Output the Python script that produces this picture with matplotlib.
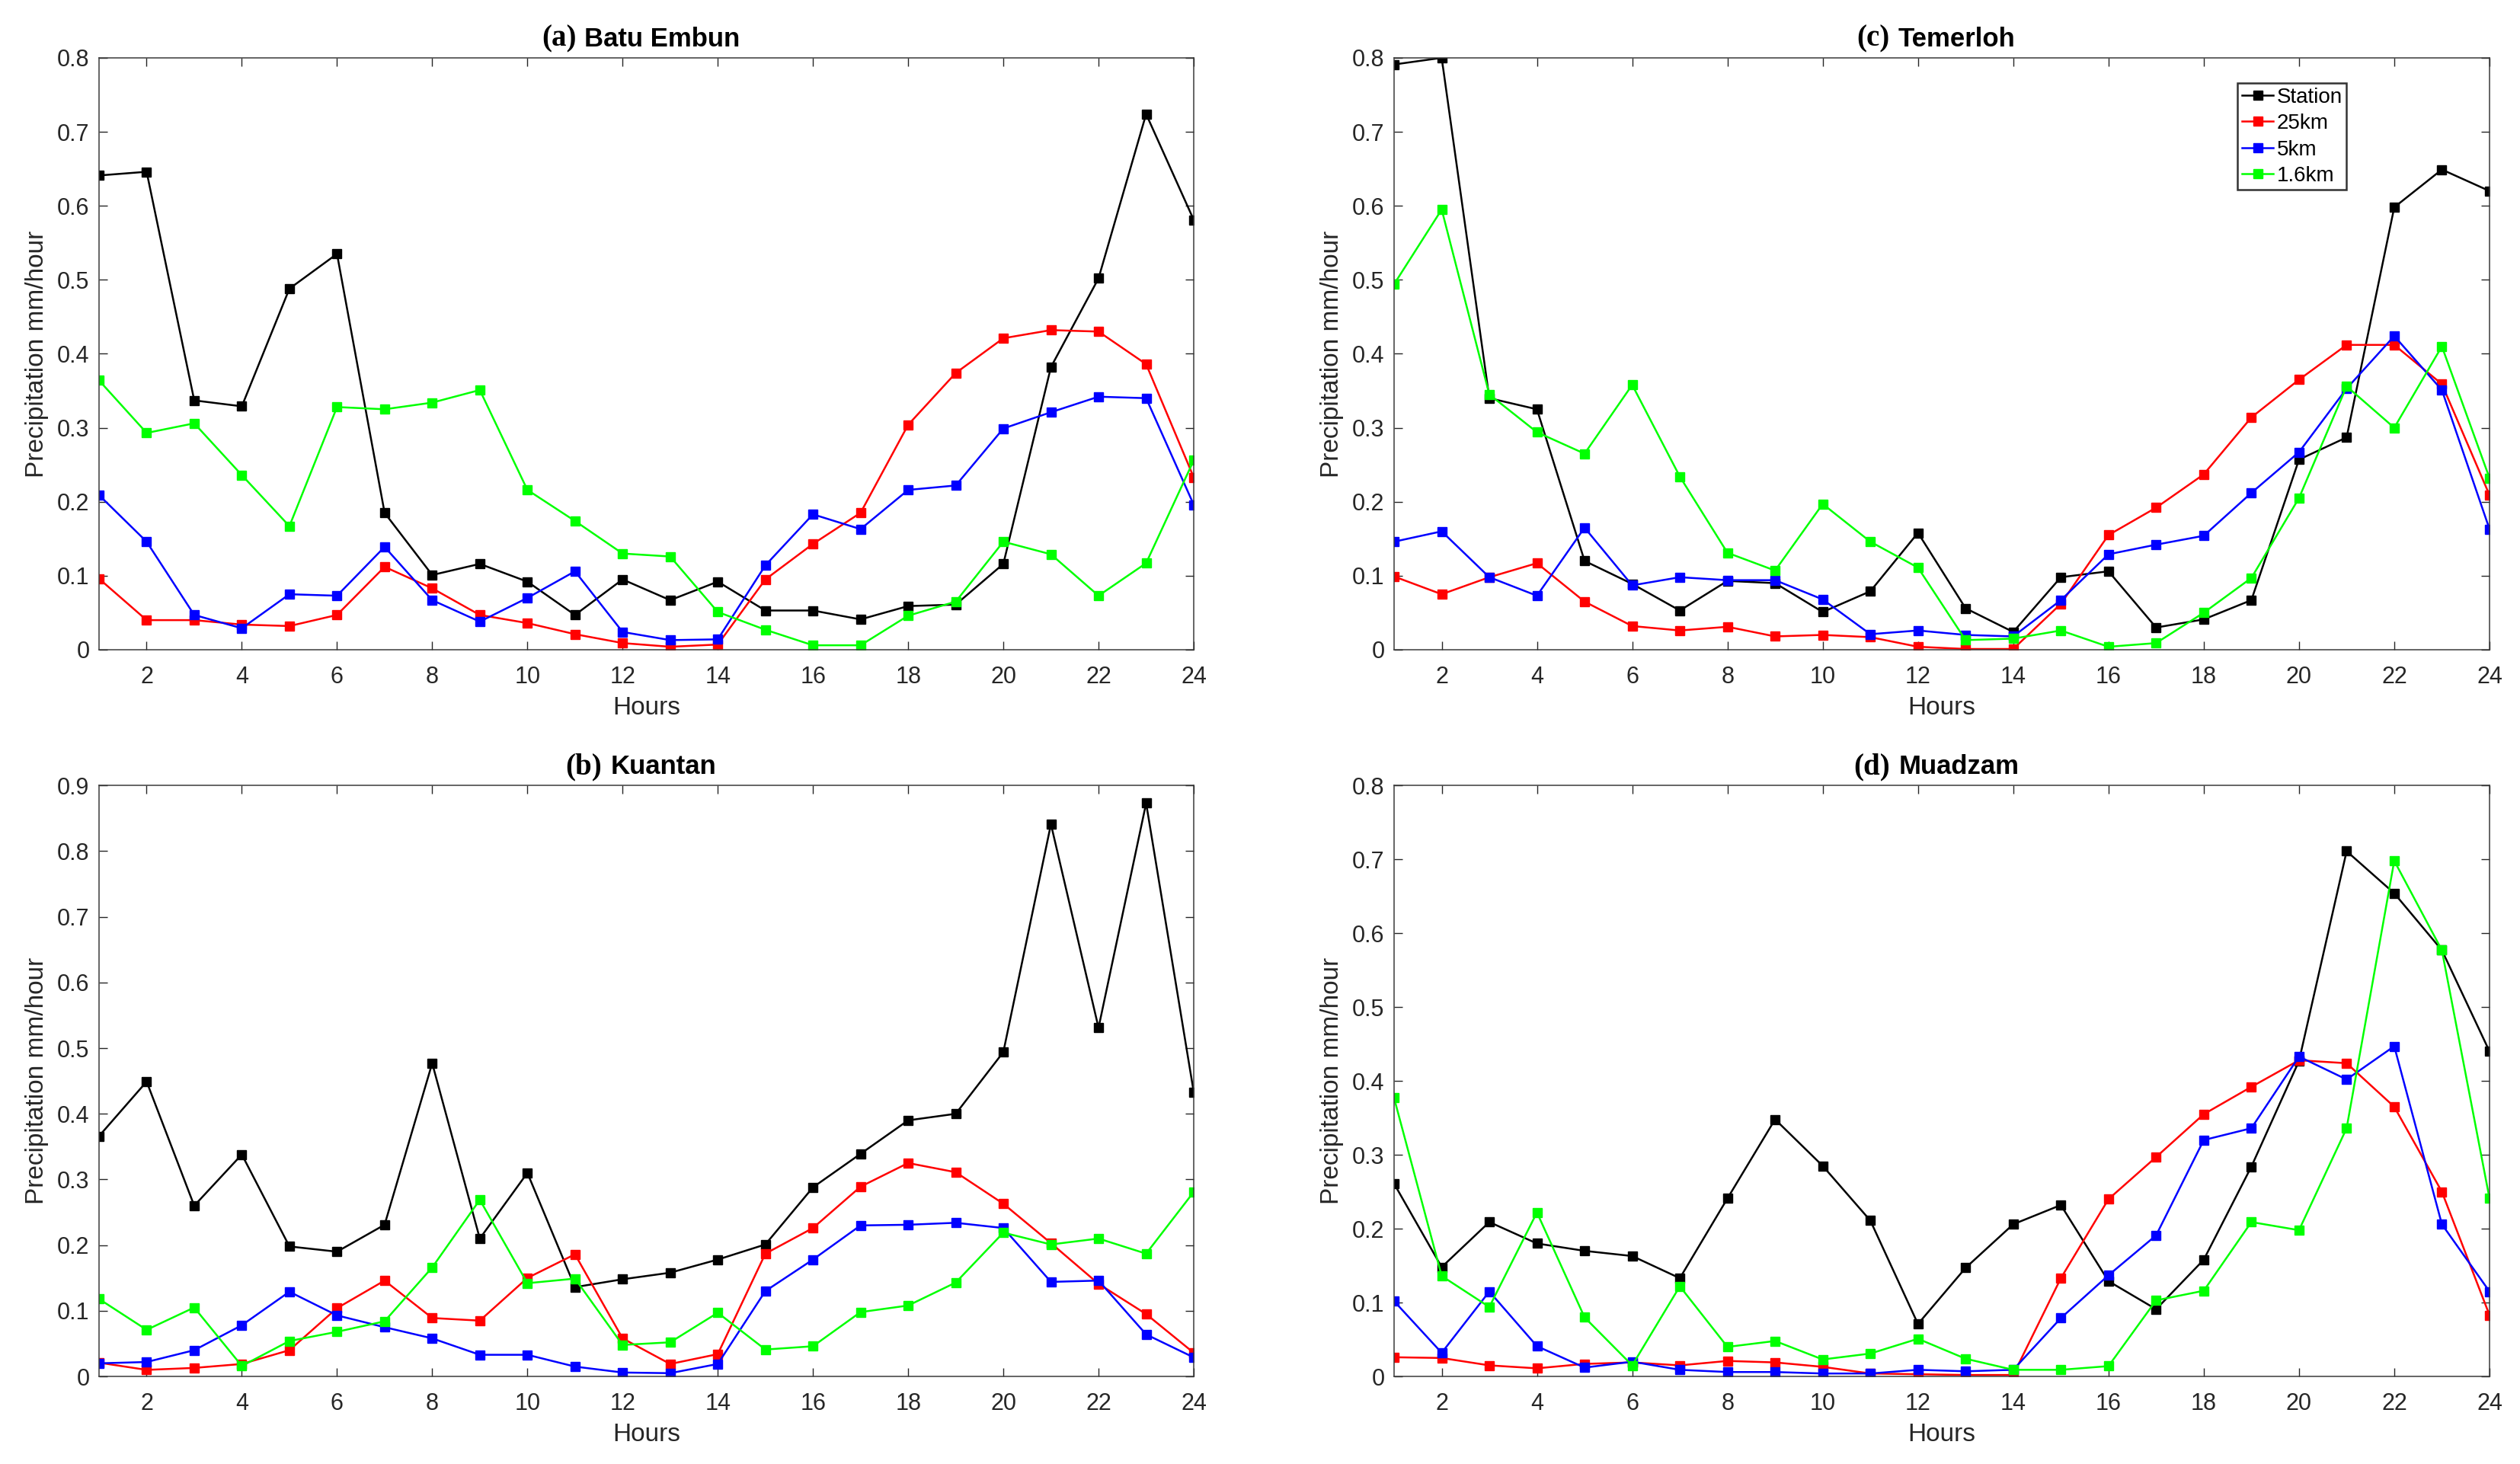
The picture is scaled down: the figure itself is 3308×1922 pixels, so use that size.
import matplotlib
matplotlib.use("Agg")
import matplotlib.pyplot as plt
from matplotlib.offsetbox import TextArea, HPacker, AnchoredOffsetbox

hours = list(range(1, 25))
series_names = ["Station", "25km", "5km", "1.6km"]
series_colors = ["#000000", "#FF0000", "#0000FF", "#00FF00"]

# (a) Batu Embun
a_station = [0.641, 0.646, 0.337, 0.329, 0.488, 0.535, 0.185, 0.101, 0.116, 0.092, 0.047, 0.095,
             0.067, 0.092, 0.053, 0.053, 0.041, 0.059, 0.061, 0.116, 0.382, 0.502, 0.724, 0.581]
a_25km = [0.096, 0.040, 0.040, 0.034, 0.032, 0.047, 0.112, 0.083, 0.047, 0.036, 0.021, 0.009,
          0.004, 0.007, 0.095, 0.143, 0.185, 0.304, 0.374, 0.421, 0.432, 0.430, 0.386, 0.233]
a_5km = [0.209, 0.146, 0.047, 0.029, 0.075, 0.073, 0.139, 0.067, 0.038, 0.070, 0.106, 0.024,
         0.013, 0.014, 0.114, 0.183, 0.163, 0.216, 0.222, 0.299, 0.321, 0.342, 0.340, 0.196]
a_16km = [0.364, 0.293, 0.306, 0.236, 0.167, 0.328, 0.325, 0.334, 0.351, 0.216, 0.174, 0.130,
          0.126, 0.051, 0.027, 0.006, 0.006, 0.046, 0.065, 0.146, 0.129, 0.073, 0.117, 0.256]

# (b) Kuantan
b_station = [0.366, 0.449, 0.260, 0.338, 0.198, 0.190, 0.231, 0.477, 0.210, 0.310, 0.136, 0.148,
             0.158, 0.178, 0.201, 0.288, 0.339, 0.390, 0.400, 0.494, 0.841, 0.531, 0.873, 0.433]
b_25km = [0.021, 0.010, 0.013, 0.019, 0.040, 0.104, 0.146, 0.089, 0.085, 0.150, 0.186, 0.058,
          0.019, 0.034, 0.187, 0.226, 0.289, 0.325, 0.311, 0.263, 0.203, 0.141, 0.095, 0.036]
b_5km = [0.020, 0.022, 0.040, 0.078, 0.129, 0.093, 0.075, 0.058, 0.033, 0.033, 0.015, 0.006,
         0.005, 0.019, 0.130, 0.178, 0.230, 0.231, 0.234, 0.226, 0.144, 0.146, 0.064, 0.029]
b_16km = [0.118, 0.071, 0.105, 0.016, 0.054, 0.068, 0.084, 0.166, 0.269, 0.142, 0.149, 0.048,
          0.052, 0.097, 0.041, 0.046, 0.098, 0.108, 0.143, 0.219, 0.201, 0.210, 0.187, 0.281]

# (c) Temerloh
c_station = [0.791, 0.800, 0.340, 0.325, 0.120, 0.089, 0.053, 0.093, 0.090, 0.051, 0.079, 0.158,
             0.056, 0.024, 0.098, 0.106, 0.030, 0.041, 0.067, 0.257, 0.287, 0.598, 0.649, 0.620]
c_25km = [0.099, 0.075, 0.098, 0.117, 0.065, 0.032, 0.026, 0.031, 0.018, 0.020, 0.017, 0.004,
          0.001, 0.001, 0.062, 0.155, 0.192, 0.237, 0.314, 0.365, 0.412, 0.412, 0.359, 0.209]
c_5km = [0.146, 0.160, 0.098, 0.073, 0.165, 0.087, 0.098, 0.094, 0.094, 0.068, 0.021, 0.026,
         0.020, 0.018, 0.067, 0.129, 0.142, 0.154, 0.212, 0.267, 0.353, 0.424, 0.351, 0.163]
c_16km = [0.494, 0.595, 0.345, 0.294, 0.265, 0.358, 0.234, 0.131, 0.107, 0.197, 0.146, 0.111,
          0.013, 0.015, 0.026, 0.004, 0.009, 0.050, 0.097, 0.205, 0.356, 0.300, 0.410, 0.232]

# (d) Muadzam
d_station = [0.261, 0.148, 0.209, 0.180, 0.170, 0.163, 0.133, 0.241, 0.348, 0.285, 0.211, 0.071,
             0.147, 0.206, 0.232, 0.129, 0.091, 0.158, 0.284, 0.427, 0.711, 0.654, 0.577, 0.440]
d_25km = [0.026, 0.025, 0.015, 0.011, 0.017, 0.019, 0.015, 0.021, 0.019, 0.013, 0.004, 0.003,
          0.002, 0.002, 0.133, 0.240, 0.297, 0.355, 0.392, 0.428, 0.424, 0.365, 0.250, 0.083]
d_5km = [0.102, 0.032, 0.115, 0.041, 0.012, 0.020, 0.009, 0.006, 0.006, 0.004, 0.004, 0.009,
         0.007, 0.009, 0.079, 0.137, 0.191, 0.320, 0.336, 0.433, 0.402, 0.447, 0.206, 0.115]
d_16km = [0.377, 0.136, 0.094, 0.222, 0.080, 0.015, 0.122, 0.040, 0.048, 0.023, 0.031, 0.051,
          0.024, 0.009, 0.009, 0.014, 0.103, 0.116, 0.209, 0.198, 0.336, 0.698, 0.577, 0.241]

panels = [
    ("(a)", "Batu Embun", [a_station, a_25km, a_5km, a_16km], 0.8, [0.0393, 0.5562, 0.4344, 0.4043]),
    ("(c)", "Temerloh", [c_station, c_25km, c_5km, c_16km], 0.8, [0.5532, 0.5562, 0.4347, 0.4043]),
    ("(b)", "Kuantan", [b_station, b_25km, b_5km, b_16km], 0.9, [0.0393, 0.0598, 0.4344, 0.4037]),
    ("(d)", "Muadzam", [d_station, d_25km, d_5km, d_16km], 0.8, [0.5532, 0.0598, 0.4347, 0.4037]),
]

plt.rcParams["font.family"] = ["Liberation Sans", "DejaVu Sans"]
fig = plt.figure(figsize=(33.08, 19.22), dpi=100)
fig.patch.set_facecolor("white")

spine_col = "#3a3a3a"
for letter, name, data, ymax, rect in panels:
    ax = fig.add_axes(rect)
    for vals, lab, col in zip(data, series_names, series_colors):
        ax.plot(hours, vals, color=col, lw=1.8, marker="s", ms=9,
                markerfacecolor=col, markeredgecolor=col, label=lab)
    ax.set_xlim(1, 24)
    ax.set_ylim(0, ymax)
    ax.set_xticks(list(range(2, 25, 2)))
    yt = [round(i * 0.1, 1) for i in range(int(round(ymax * 10)) + 1)]
    ax.set_yticks(yt)
    ax.set_yticklabels(["0" if v == 0 else f"{v:.1f}" for v in yt])
    ax.tick_params(direction="in", top=True, right=True, length=8, width=1.0,
                   labelsize=22, colors="#262626")
    ax.tick_params(axis="x", pad=15)
    ax.tick_params(axis="y", pad=9)
    for sp in ax.spines.values():
        sp.set_color(spine_col)
        sp.set_linewidth(1.1)
    ax.set_xlabel("Hours", fontsize=24, color="#262626", labelpad=7)
    ax.set_ylabel("Precipitation mm/hour", fontsize=24, color="#262626", labelpad=8)

    t1 = TextArea(letter, textprops=dict(family=["Liberation Serif", "DejaVu Serif"],
                                          weight="bold", size=28, color="black"))
    t2 = TextArea(name, textprops=dict(family=["Liberation Sans", "DejaVu Sans"],
                                        weight="bold", size=25, color="black"))
    box = HPacker(children=[t1, t2], align="baseline", pad=0, sep=8)
    anch = AnchoredOffsetbox(loc="lower center", child=box, pad=0.0, borderpad=0.0,
                             frameon=False, bbox_to_anchor=(0.495, 1.008),
                             bbox_transform=ax.transAxes)
    ax.add_artist(anch)

    if letter == "(c)":
        leg = ax.legend(loc="upper left", bbox_to_anchor=(0.770, 0.957), fontsize=20,
                        frameon=True, fancybox=False, handlelength=1.5, handletextpad=0.15,
                        borderpad=0.2, labelspacing=0.3, borderaxespad=0.0, markerscale=0.9)
        leg.get_frame().set_edgecolor("black")
        leg.get_frame().set_linewidth(1.8)

fig.savefig("out.png", dpi=100, facecolor="white")
